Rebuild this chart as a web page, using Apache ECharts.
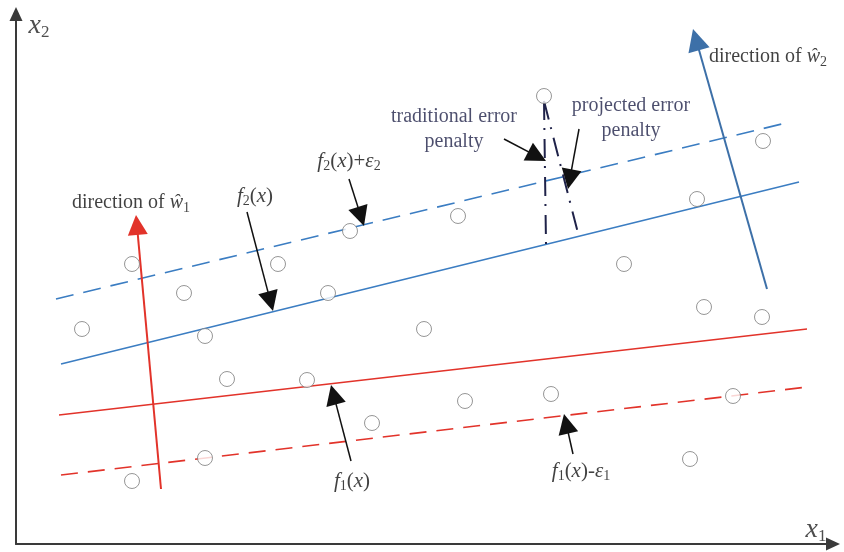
<!DOCTYPE html>
<html>
<head>
<meta charset="utf-8">
<title>Error penalty in x1-x2 plane</title>
<script src="https://cdn.jsdelivr.net/npm/echarts@6/dist/echarts.min.js"></script>
<style>
  html, body { margin: 0; padding: 0; background: #fff; }
  #chart { width: 844px; height: 552px; }
</style>
</head>
<body>
<div id="chart"></div>
<script>
// Sample points (x1, x2)
const samplePoints = [
  [528, 448], [747, 403], [681, 345], [442, 328], [334, 313],
  [116, 280], [262, 280], [608, 280], [168, 251], [312, 251],
  [688, 237], [746, 227], [66, 215], [189, 208], [408, 215],
  [211, 165], [291, 164], [356, 121], [449, 143], [535, 150],
  [717, 148], [189, 86], [116, 63], [674, 85]
];

// Regression lines and their margins
const f2Upper = [[40, 245], [770, 421]];   // f2(x)+ε2
const f2Line = [[45, 180], [783, 362]];    // f2(x)
const f1Line = [[43, 129], [791, 215]];    // f1(x)
const f1Lower = [[45, 69], [791, 157]];    // f1(x)-ε1

// Normal directions (tail, tip)
const w1Dir = [[145, 55], [120, 329]];
const w2Dir = [[751, 255], [677, 515]];

// Error penalties from the outlying sample
const traditionalPenalty = [[528, 443], [530, 300]];
const projectedPenalty = [[528, 443], [563, 307]];

// Pointer arrows to the annotations (tail, tip)
const pointerArrows = [
  [[488, 405], [530, 383]],
  [[563, 415], [552, 355]],
  [[333, 365], [348, 318]],
  [[231, 332], [257, 233]],
  [[335, 83], [315, 159]],
  [[557, 90], [548, 130]]
];

// Annotation anchors and texts
const notePos = [
  [23, 518], [800, 14], [752, 487], [115, 341],
  [438, 415], [615, 426], [333, 383], [239, 348], [336, 63], [565, 73]
];
const noteText = [
  '{ax|x}{axs|2}',
  '{ax|x}{axs|1}',
  '{dn|direction of }{di|ŵ}{ds|2}',
  '{dn|direction of }{di|ŵ}{ds|1}',
  '{pn|traditional error}\n{pn|penalty}',
  '{pn|projected error}\n{pn|penalty}',
  '{fi|f}{fs|2}{fn|(}{fi|x}{fn|)+}{fi|ε}{fs|2}',
  '{fi|f}{fs|2}{fn|(}{fi|x}{fn|)}',
  '{fi|f}{fs|1}{fn|(}{fi|x}{fn|)}',
  '{fi|f}{fs|1}{fn|(}{fi|x}{fn|)-}{fi|ε}{fs|1}'
];

const SERIF = 'Liberation Serif';
const BLUE = '#3b7dc2';
const RED = '#e2332a';
const NAVY = '#1f2249';

function straight(data, color, type, width) {
  return {
    type: 'line', data: data, showSymbol: false, silent: true,
    lineStyle: { color: color, width: width || 1.6, type: type || 'solid' },
    z: 3
  };
}

// The triangle head is centred on the line end, so the line is cut back
// by half the head length to leave the tip on the given point.
function arrow(coordsList, color, width, size) {
  const half = size[1] / 2;
  return {
    type: 'lines', coordinateSystem: 'cartesian2d', silent: true,
    symbol: ['none', 'triangle'], symbolSize: size,
    lineStyle: { color: color, width: width, opacity: 1, curveness: 0 },
    data: coordsList.map(([a, b]) => {
      const dx = b[0] - a[0], dy = b[1] - a[1];
      const len = Math.hypot(dx, dy);
      return { coords: [a, [b[0] - dx / len * half, b[1] - dy / len * half]] };
    }),
    z: 4
  };
}

const chart = echarts.init(document.getElementById('chart'), null, { renderer: 'canvas' });

const axisLineStyle = {
  show: true,
  lineStyle: { color: '#3a3a3a', width: 2 },
  symbol: ['none', 'triangle'],
  symbolSize: [13, 14]
};

chart.setOption({
  animation: false,
  backgroundColor: '#ffffff',
  grid: { left: 16, right: 11, top: 14, bottom: 8 },
  xAxis: {
    type: 'value', min: 0, max: 817,
    axisLine: axisLineStyle,
    axisTick: { show: false }, axisLabel: { show: false }, splitLine: { show: false }
  },
  yAxis: {
    type: 'value', min: 0, max: 530,
    axisLine: axisLineStyle,
    axisTick: { show: false }, axisLabel: { show: false }, splitLine: { show: false }
  },
  series: [
    straight(f2Upper, BLUE, [18, 10]),
    straight(f2Line, BLUE),
    straight(f1Line, RED),
    straight(f1Lower, RED, [17, 10]),
    straight(traditionalPenalty, NAVY, [19, 8, 2, 9], 2),
    straight(projectedPenalty, NAVY, [19, 8, 2, 9], 2),
    arrow([w1Dir], RED, 2, [14, 20]),
    arrow([w2Dir], '#3d70a8', 2, [14, 22]),
    arrow(pointerArrows, '#111111', 1.5, [12, 20]),
    {
      type: 'scatter', data: samplePoints, symbol: 'circle', symbolSize: 15, silent: true,
      itemStyle: { color: '#ffffff', borderColor: '#7c7c7c', borderWidth: 1 },
      z: 5
    },
    {
      type: 'scatter', symbolSize: 0, silent: true, z: 6,
      data: notePos.map((p, i) => ({ value: p, label: { formatter: noteText[i] } })),
      label: {
        show: true, position: 'inside', align: 'center', verticalAlign: 'middle',
        rich: {
          ax: { fontFamily: SERIF, fontStyle: 'italic', fontSize: 28, lineHeight: 30, color: '#222' },
          axs: { fontFamily: SERIF, fontSize: 17, lineHeight: 15, verticalAlign: 'bottom', color: '#222' },
          dn: { fontFamily: SERIF, fontSize: 20, lineHeight: 24, color: '#111' },
          di: { fontFamily: SERIF, fontStyle: 'italic', fontSize: 20, lineHeight: 24, color: '#111' },
          ds: { fontFamily: SERIF, fontSize: 14, lineHeight: 12, verticalAlign: 'bottom', color: '#111' },
          pn: { fontFamily: SERIF, fontSize: 20, lineHeight: 25, color: NAVY, align: 'center' },
          fi: { fontFamily: SERIF, fontStyle: 'italic', fontSize: 21, lineHeight: 24, color: '#111' },
          fn: { fontFamily: SERIF, fontSize: 21, lineHeight: 24, color: '#111' },
          fs: { fontFamily: SERIF, fontSize: 14, lineHeight: 12, verticalAlign: 'bottom', color: '#111' }
        }
      }
    }
  ]
});
</script>
</body>
</html>
